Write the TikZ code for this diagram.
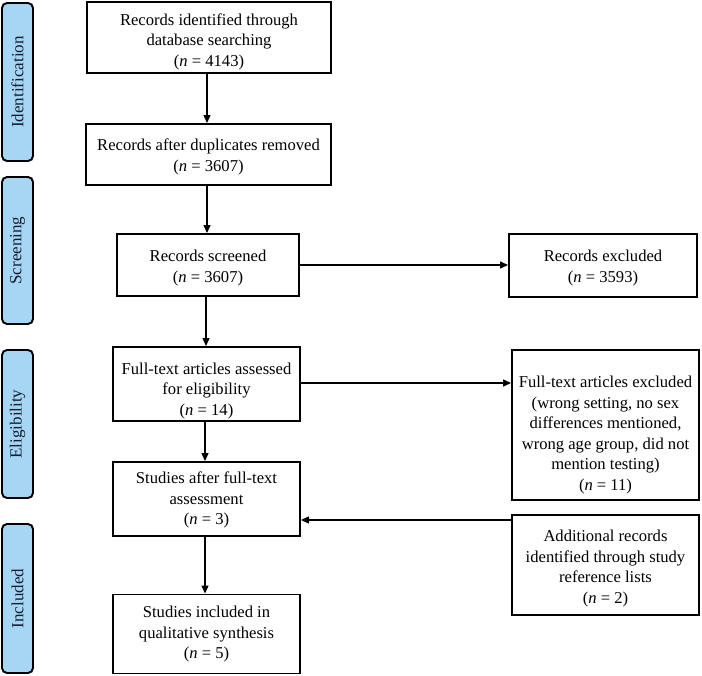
\documentclass[tikz,border=0pt]{standalone}
\usepackage{fontspec}
\setmainfont{Liberation Serif}
\usetikzlibrary{arrows.meta}
\definecolor{sidefill}{RGB}{166,214,243}
\definecolor{sidetext}{RGB}{18,30,48}
\begin{document}
\begin{tikzpicture}[x=1pt,y=-1pt,
  box/.style={draw=black,line width=1.9pt,rectangle,inner sep=0pt},
  txt/.style={align=center,font=\fontsize{16.6}{20.5}\selectfont},
  side/.style={draw=black,line width=1.9pt,fill=sidefill,rounded corners=5pt,inner sep=0pt,
    minimum height=31pt,text=sidetext,font=\fontsize{17}{19}\selectfont,rotate=90},
  arr/.style={line width=1.2pt,-{Triangle[length=8pt,width=7pt]}}]
\useasboundingbox (0,0) rectangle (702,676);

% phase labels
\node[side,minimum width=158pt] (S1) at (17.5,82) {Identification};
\node[side,minimum width=147pt] (S2) at (17.5,250.5) {Screening};
\node[side,minimum width=148pt] (S3) at (17.5,424) {Eligibility};
\node[side,minimum width=149pt] (S4) at (17.5,598.5) {Included};

% boxes
\node[box,minimum width=244pt,minimum height=71pt,
  label={[txt,yshift=-4pt]center:Records identified through\\database searching\\(\textit{n} = 4143)}] (B1) at (209,37.5) {};
\node[box,minimum width=245pt,minimum height=61pt,
  label={[txt,yshift=-2.5pt]center:Records after duplicates removed\\(\textit{n} = 3607)}] (B2) at (208.5,154.5) {};
\node[box,minimum width=182pt,minimum height=62pt,
  label={[txt,yshift=-3pt]center:Records screened\\(\textit{n} = 3607)}] (B3) at (208,265) {};
\node[box,minimum width=188pt,minimum height=63pt,
  label={[txt,yshift=-2.5pt]center:Records excluded\\(\textit{n} = 3593)}] (B4) at (603,265.5) {};
\node[box,minimum width=187pt,minimum height=74pt,
  label={[txt,yshift=-7pt]center:Full-text articles assessed\\for eligibility\\(\textit{n} = 14)}] (B5) at (206.5,384) {};
\node[box,minimum width=187pt,minimum height=150pt,
  label={[txt,yshift=-10pt]center:Full-text articles excluded\\(wrong setting, no sex\\differences mentioned,\\wrong age group, did not\\mention testing)\\(\textit{n} = 11)}] (B6) at (605.5,425) {};
\node[box,minimum width=187pt,minimum height=74pt,
  label={[txt,yshift=-1pt]center:Studies after full-text\\assessment\\(\textit{n} = 3)}] (B7) at (206.5,499) {};
\node[box,minimum width=187pt,minimum height=100pt,
  label={[txt,yshift=-3.5pt]center:Additional records\\identified through study\\reference lists\\(\textit{n} = 2)}] (B8) at (605.5,565) {};
\node[box,minimum width=187pt,minimum height=79pt,
  label={[txt,yshift=-0.5pt]center:Studies included in\\qualitative synthesis\\(\textit{n} = 5)}] (B9) at (206.5,634) {};

% helper coordinates for connector lines
\coordinate (xa) at (207,0);
\coordinate (xb) at (206,0);
\coordinate (xc) at (205,0);
\coordinate (ya) at (0,383);
\coordinate (yb) at (0,520);

% connectors
\draw[arr] (B1.south -| xa) -- (B2.north -| xa);
\draw[arr] (B2.south -| xa) -- (B3.north -| xa);
\draw[arr] (B3.south -| xb) -- (B5.north -| xb);
\draw[arr] (B5.south -| xc) -- (B7.north -| xc);
\draw[arr] (B7.south -| xc) -- (B9.north -| xc);
\draw[arr] (B3.east) -- (B4.west |- B3.east);
\draw[arr] (B5.east |- ya) -- (B6.west |- ya);
\draw[arr] (B8.west |- yb) -- (B7.east |- yb);
\end{tikzpicture}
\end{document}
